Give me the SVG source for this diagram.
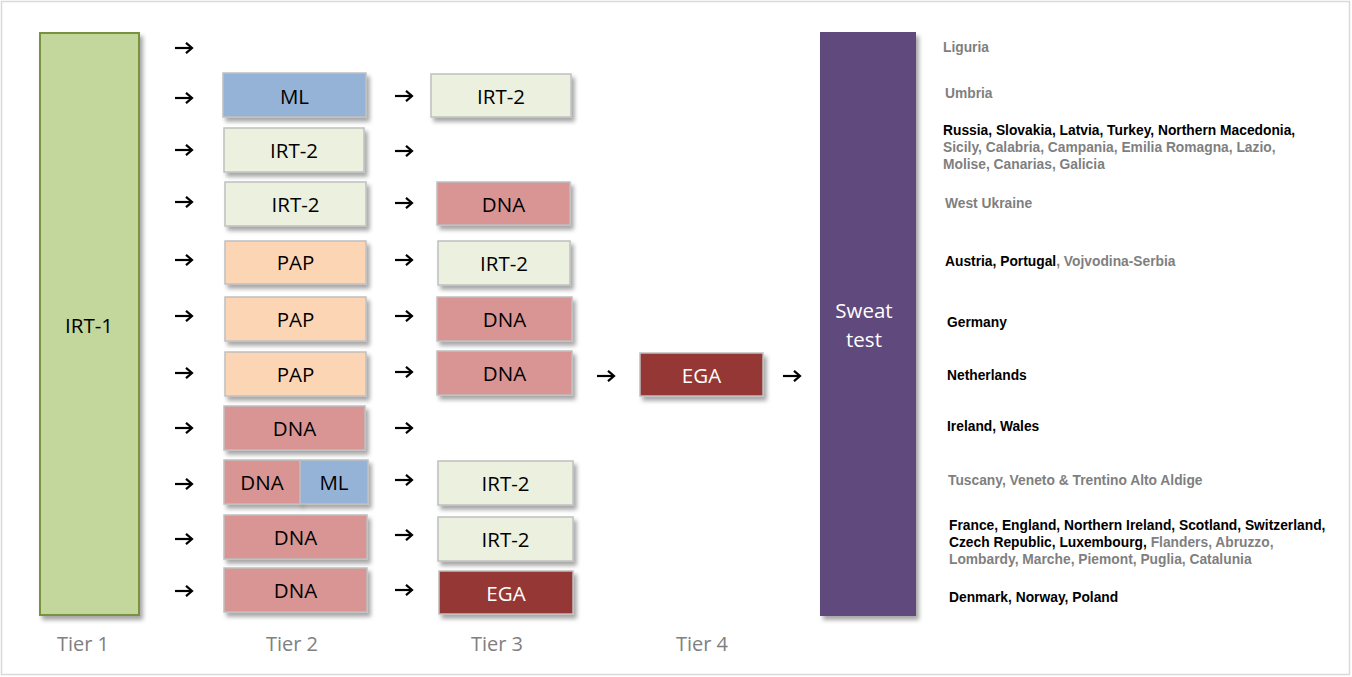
<svg xmlns="http://www.w3.org/2000/svg" width="1352" height="677" viewBox="0 0 1352 677">
<defs>
<filter id="sh" x="-20%" y="-20%" width="140%" height="150%">
<feDropShadow dx="3" dy="4" stdDeviation="2.2" flood-color="#000" flood-opacity="0.35"/>
</filter>
<marker id="ah" markerWidth="10" markerHeight="12" refX="8" refY="6" orient="auto" markerUnits="userSpaceOnUse">
<path d="M2,0.8 L8,6 L2,11.2" fill="none" stroke="#000" stroke-width="2.2"/>
</marker>
<style>
.b{stroke:#bfbfbf;stroke-width:1.5;filter:url(#sh)}
.ml{fill:#95b3d7}
.irt{fill:#ebf1de}
.pap{fill:#fcd5b5}
.dna{fill:#d99594}
.ega{fill:#953735}
.t{font-family:"Open Sans","Liberation Sans",sans-serif;font-size:20.5px;fill:#000;text-anchor:middle;dominant-baseline:central}
.w{fill:#fff}
.tier{font-family:"Open Sans","Liberation Sans",sans-serif;font-size:20px;fill:#808080;text-anchor:middle}
.c{font-family:"Liberation Sans",Arial,sans-serif;font-size:13.8px;font-weight:bold;fill:#000}
.g{fill:#7f7f7f}
.a line{stroke:#000;stroke-width:2.2;marker-end:url(#ah)}
</style>
</defs>
<rect x="1.5" y="1.5" width="1348" height="673" fill="#fff" stroke="#d9d9d9" stroke-width="1.5"/>

<g id="irt1"><rect x="40" y="33" width="99" height="582" fill="#c3d69b" stroke="#77933c" stroke-width="2" filter="url(#sh)"/><text class="t" x="89" y="325">IRT-1</text></g>
<g id="sweat"><rect x="820" y="32" width="96" height="584" fill="#604a7b" filter="url(#sh)"/><text class="t w" x="864" y="310">Sweat</text><text class="t w" x="864" y="339">test</text></g>

<g id="t2r1"><rect class="b ml" x="223" y="73" width="143" height="44"/><text class="t" x="294.5" y="96">ML</text></g>
<g id="t2r2"><rect class="b irt" x="224" y="128" width="140" height="44"/><text class="t" x="294" y="150">IRT-2</text></g>
<g id="t2r3"><rect class="b irt" x="225" y="182" width="141" height="44"/><text class="t" x="295.5" y="204">IRT-2</text></g>
<g id="t2r4"><rect class="b pap" x="225" y="241" width="141" height="43"/><text class="t" x="295.5" y="262">PAP</text></g>
<g id="t2r5"><rect class="b pap" x="225" y="297" width="141" height="44"/><text class="t" x="295.5" y="319">PAP</text></g>
<g id="t2r6"><rect class="b pap" x="225" y="352" width="141" height="44"/><text class="t" x="295.5" y="374">PAP</text></g>
<g id="t2r7"><rect class="b dna" x="224" y="406" width="141" height="44"/><text class="t" x="294.5" y="428">DNA</text></g>
<g id="t2r8"><rect class="b dna" x="224" y="460" width="76" height="44"/><rect class="b ml" x="300" y="460" width="68" height="44"/><text class="t" x="262" y="482">DNA</text><text class="t" x="334" y="482">ML</text></g>
<g id="t2r9"><rect class="b dna" x="224" y="515" width="143" height="44"/><text class="t" x="295.5" y="537">DNA</text></g>
<g id="t2r10"><rect class="b dna" x="224" y="568" width="143" height="44"/><text class="t" x="295.5" y="590">DNA</text></g>

<g id="t3r1"><rect class="b irt" x="431" y="74" width="140" height="43"/><text class="t" x="501" y="96">IRT-2</text></g>
<g id="t3r3"><rect class="b dna" x="437" y="182" width="133" height="43"/><text class="t" x="503.5" y="204">DNA</text></g>
<g id="t3r4"><rect class="b irt" x="438" y="241" width="132" height="44"/><text class="t" x="504" y="263">IRT-2</text></g>
<g id="t3r5"><rect class="b dna" x="437" y="297" width="135" height="44"/><text class="t" x="504.5" y="319">DNA</text></g>
<g id="t3r6"><rect class="b dna" x="437" y="351" width="135" height="44"/><text class="t" x="504.5" y="373">DNA</text></g>
<g id="t3r8"><rect class="b irt" x="438" y="461" width="135" height="44"/><text class="t" x="505.5" y="483">IRT-2</text></g>
<g id="t3r9"><rect class="b irt" x="438" y="517" width="135" height="44"/><text class="t" x="505.5" y="539">IRT-2</text></g>
<g id="t3r10"><rect class="b ega" x="439" y="571" width="134" height="43"/><text class="t w" x="506" y="593">EGA</text></g>

<g id="t4"><rect class="b ega" x="640" y="353" width="123" height="43"/><text class="t w" x="701.5" y="375">EGA</text></g>

<g id="connectors" class="a">
<line x1="175" y1="48" x2="192" y2="48"/>
<line x1="175" y1="98" x2="192" y2="98"/>
<line x1="175" y1="150" x2="192" y2="150"/>
<line x1="175" y1="202" x2="192" y2="202"/>
<line x1="175" y1="260" x2="192" y2="260"/>
<line x1="175" y1="316" x2="192" y2="316"/>
<line x1="175" y1="373" x2="192" y2="373"/>
<line x1="175" y1="428" x2="192" y2="428"/>
<line x1="175" y1="484" x2="192" y2="484"/>
<line x1="175" y1="539" x2="192" y2="539"/>
<line x1="175" y1="591" x2="192" y2="591"/>
<line x1="395" y1="96" x2="412" y2="96"/>
<line x1="395" y1="151" x2="412" y2="151"/>
<line x1="395" y1="203" x2="412" y2="203"/>
<line x1="395" y1="260" x2="412" y2="260"/>
<line x1="395" y1="316" x2="412" y2="316"/>
<line x1="395" y1="372" x2="412" y2="372"/>
<line x1="395" y1="428" x2="412" y2="428"/>
<line x1="395" y1="480" x2="412" y2="480"/>
<line x1="395" y1="535" x2="412" y2="535"/>
<line x1="395" y1="590" x2="412" y2="590"/>
<line x1="597" y1="376" x2="614" y2="376"/>
<line x1="783" y1="376" x2="800" y2="376"/>
</g>

<g id="tiers">
<text class="tier" x="83" y="651">Tier 1</text>
<text class="tier" x="292" y="651">Tier 2</text>
<text class="tier" x="497" y="651">Tier 3</text>
<text class="tier" x="702" y="651">Tier 4</text>
</g>

<g id="countries" class="c">
<text x="943" y="52" class="g">Liguria</text>
<text x="945" y="98" class="g">Umbria</text>
<text x="943" y="135">Russia, Slovakia, Latvia, Turkey, Northern Macedonia,</text>
<text x="943" y="152" class="g">Sicily, Calabria, Campania, Emilia Romagna, Lazio,</text>
<text x="943" y="169" class="g">Molise, Canarias, Galicia</text>
<text x="945" y="208" class="g">West Ukraine</text>
<text x="945" y="266">Austria, Portugal<tspan class="g">, Vojvodina-Serbia</tspan></text>
<text x="947" y="327">Germany</text>
<text x="947" y="380">Netherlands</text>
<text x="947" y="431">Ireland, Wales</text>
<text x="948" y="485" class="g">Tuscany, Veneto &amp; Trentino Alto Aldige</text>
<text x="949" y="530">France, England, Northern Ireland, Scotland, Switzerland,</text>
<text x="949" y="547">Czech Republic, Luxembourg, <tspan class="g">Flanders, Abruzzo,</tspan></text>
<text x="949" y="564" class="g">Lombardy, Marche, Piemont, Puglia, Catalunia</text>
<text x="949" y="602">Denmark, Norway, Poland</text>
</g>
</svg>
